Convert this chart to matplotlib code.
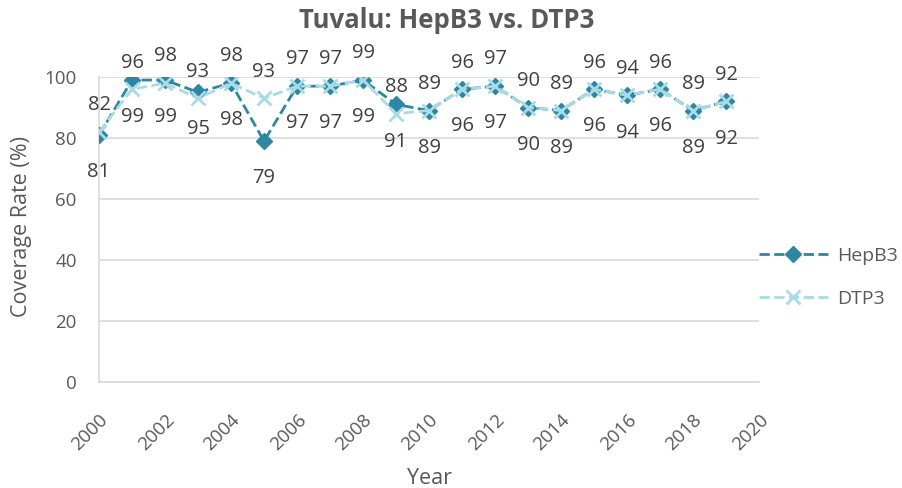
import numpy as np
import matplotlib.pyplot as plt

# Data
years = list(range(2000, 2020))
hepb3 = [81, 99, 99, 95, 98, 79, 97, 97, 99, 91, 89, 96, 97, 90, 89, 96, 94, 96, 89, 92]
dtp3 = [82, 96, 98, 93, 98, 93, 97, 97, 99, 88, 89, 96, 97, 90, 89, 96, 94, 96, 89, 92]

hep_color = '#2e86a0'
dtp_color = '#a9dbe6'
text_color = '#595959'

plt.rcParams['font.family'] = ['Open Sans', 'DejaVu Sans']

fig = plt.figure(figsize=(9.02, 4.88), dpi=100)
ax = fig.add_axes([0.1098, 0.2172, 0.7317, 0.625])

ax.plot(years, hepb3, linestyle='--', color=hep_color, marker='D', markersize=8,
        linewidth=2, label='HepB3', zorder=3)
ax.plot(years, dtp3, linestyle='--', color=dtp_color, marker='x', markersize=10,
        markeredgewidth=2, linewidth=2, label='DTP3', zorder=4)

# Data labels: DTP3 above, HepB3 below
for x, h, d in zip(years, hepb3, dtp3):
    ax.annotate(str(d), (x, d), xytext=(0, 21), textcoords='offset points',
                ha='center', va='center_baseline', fontsize=14.5, color='#404040',
                annotation_clip=False)
    ax.annotate(str(h), (x, h), xytext=(0, -25), textcoords='offset points',
                ha='center', va='center_baseline', fontsize=14.5, color='#404040',
                annotation_clip=False)

ax.set_xlim(2000, 2020)
ax.set_ylim(0, 100)
ax.set_xticks(range(2000, 2021, 2))
ax.set_yticks(range(0, 101, 20))
plt.setp(ax.get_xticklabels(), rotation=45, ha='right', rotation_mode='anchor')
ax.tick_params(axis='both', length=0, labelsize=13.5, labelcolor=text_color)
ax.tick_params(axis='y', pad=16)
ax.tick_params(axis='x', pad=21)

ax.grid(axis='y', color='#d9d9d9', linewidth=1.2)
ax.set_axisbelow(True)
for s in ['top', 'right']:
    ax.spines[s].set_visible(False)
for s in ['left', 'bottom']:
    ax.spines[s].set_color('#d9d9d9')
    ax.spines[s].set_linewidth(1.2)

ax.set_xlabel('Year', fontsize=15.5, color=text_color, va='center')
ax.xaxis.set_label_coords(0.5, -0.315)
ax.set_ylabel('Coverage Rate (%)', fontsize=15.5, color=text_color, va='center')
ax.yaxis.set_label_coords(-0.118, 0.51)
fig.text(447 / 902, 1 - 20 / 488, 'Tuvalu: HepB3 vs. DTP3', fontsize=18.5,
         fontweight='bold', color=text_color, ha='center', va='center')

leg = ax.legend(loc='center left', bbox_to_anchor=(0.8326, 0.432),
                bbox_transform=fig.transFigure, borderaxespad=0, frameon=False,
                fontsize=14, labelspacing=1.3, handlelength=3.55, handletextpad=0.46)
for t in leg.get_texts():
    t.set_color(text_color)

fig.savefig('out.png', dpi=100)
